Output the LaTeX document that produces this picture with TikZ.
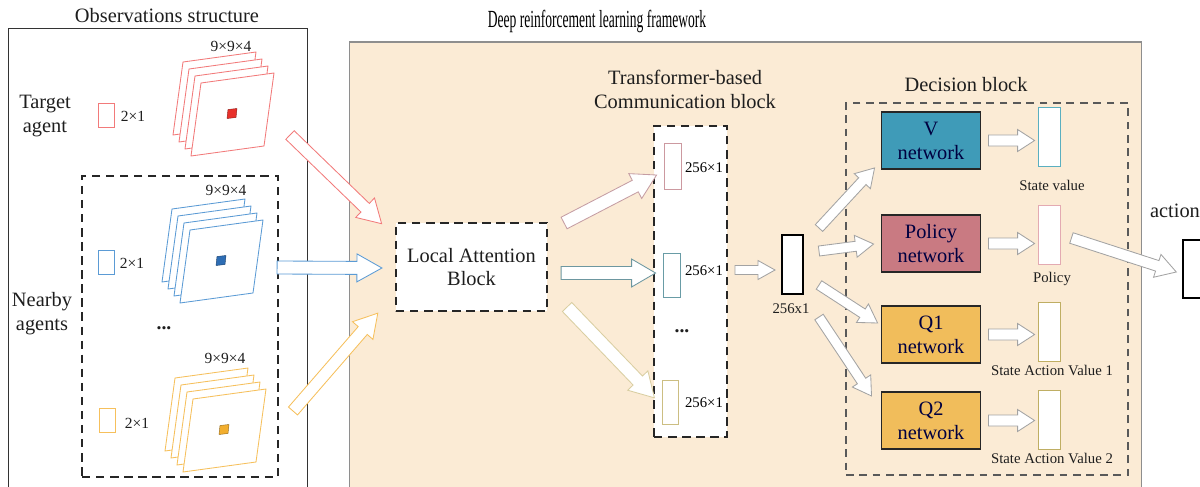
\documentclass[tikz,border=0pt]{standalone}
\usepackage{fontspec}
\setmainfont{Liberation Serif}
\usetikzlibrary{positioning,calc}
\definecolor{drlbg}{HTML}{FBEBD5}
\definecolor{drlframe}{HTML}{8E8E8E}
\definecolor{tgtred}{HTML}{F27A7A}
\definecolor{nbblue}{HTML}{5B9BD5}
\definecolor{nbyel}{HTML}{F6C05C}
\definecolor{cellred}{HTML}{E8302A}
\definecolor{cellblue}{HTML}{2E6DB4}
\definecolor{cellyel}{HTML}{F2AE2E}
\definecolor{vcol}{HTML}{3F9BB8}
\definecolor{pcol}{HTML}{C97A82}
\definecolor{qcol}{HTML}{F1BD5B}
\definecolor{vout}{HTML}{5AAFC0}
\definecolor{pout}{HTML}{E3AAB2}
\definecolor{qout}{HTML}{BFAE63}
\definecolor{arrgray}{HTML}{A3A3A3}
\definecolor{txt}{HTML}{1E1E1E}
\def\pxl{0.71132pt}
% block arrow: #2 tail, #3 tip, #4 half shaft, #5 half head, #6 head length (px)
\newcommand{\fatarrow}[6][]{%
  \draw[fatline,#1] let \p1=(#2), \p2=(#3),
    \n1={atan2(\y2-\y1,\x2-\x1)}, \n2={veclen(\x2-\x1,\y2-\y1)} in
    [shift={(\p1)},rotate=\n1]
    (0pt,{-#4*\pxl}) -- ({\n2-#6*\pxl},{-#4*\pxl}) -- ({\n2-#6*\pxl},{-#5*\pxl}) -- ({\n2+0pt},0pt)
    -- ({\n2-#6*\pxl},{#5*\pxl}) -- ({\n2-#6*\pxl},{#4*\pxl}) -- (0pt,{#4*\pxl}) -- cycle;}
% stack of four 9x9x4 sheets: #1,#2 back corner, #3 line, #4 cell
\newcommand{\obsstack}[4]{%
  \foreach \k in {0,...,3}
    \draw[sheet,draw=#3] ({#1+6*\k},{#2+7*\k}) -- ++(73,-10) -- ++(-10,73) -- ++(-73,10) -- cycle;
  \draw[fill=#4,draw=#4!60!black,line width=0.3pt] ({#1+45},{#2+47.5}) -- ++(9,-1) -- ++(-1,9) -- ++(-9,1) -- cycle;}
\tikzset{
  lbl/.style={font=\fontsize{14.5}{17}\selectfont,align=center,inner sep=0pt,text=txt},
  dim/.style={font=\fontsize{11}{13}\selectfont,inner sep=0pt,text=txt},
  tiny/.style={font=\fontsize{10.5}{12}\selectfont,inner sep=0pt,text=txt},
  dots/.style={font=\fontsize{14}{14}\selectfont\bfseries,inner sep=0pt,text=txt},
  vecbox/.style={draw,fill=white,minimum width=0.4cm,minimum height=0.6cm,inner sep=0pt,line width=0.6pt},
  blkdash/.style={draw=black!85,line width=1.5pt,dash pattern=on 6pt off 4pt,inner sep=0pt},
  netbox/.style={draw=black!85,line width=1.3pt,minimum width=2.475cm,minimum height=1.425cm,inner sep=0pt,
    align=center,font=\fontsize{14.5}{17}\selectfont,text=black!75!blue},
  fatline/.style={draw=arrgray,fill=white,line width=0.6pt},
  sheet/.style={fill=white,line width=0.6pt},
}
\begin{document}
\begin{tikzpicture}[x=0.025cm,y=-0.025cm]
\clip (0,0) rectangle (1200,486);
% observations side
\node[lbl] (obs-title) at (167,16) {Observations structure};
\node[draw=black!80,line width=0.6pt,minimum width=7.475cm,minimum height=12cm,inner sep=0pt] (obs) at (157.5,268) {};
\node[lbl] (tgt) at (45,116) {Target\\agent};
\node[vecbox,draw=tgtred] (tgt-v) at (106,115) {};
\node[dim] (tgt-v-dim) at (133,116) {2×1};
\obsstack{183}{62}{tgtred}{cellred}
\node[dim] (tgt-m-dim) at (231,46) {9×9×4};
\node[blkdash,minimum width=4.9cm,minimum height=7.525cm] (nbox) at (180,326.5) {};
\node[lbl] (nb) at (42,314) {Nearby\\agents};
\node[vecbox,draw=nbblue] (nb1-v) at (106,262) {};
\node[dim] (nb1-v-dim) at (132,263) {2×1};
\obsstack{172}{209}{nbblue}{cellblue}
\node[dim] (nb1-m-dim) at (226,190) {9×9×4};
\node[dots] (nb-dots) at (164,328) {...};
\node[vecbox,draw=nbyel] (nb2-v) at (107,420) {};
\node[dim] (nb2-v-dim) at (137,423) {2×1};
\obsstack{175}{378}{nbyel}{cellyel}
\node[dim] (nb2-m-dim) at (225,358) {9×9×4};
% DRL framework
\node[lbl,text=black] (drl-title) at (597,21) {\fontsize{17.5}{19}\selectfont\scalebox{0.55}[1]{Deep reinforcement learning framework}};
\node[draw=drlframe,fill=drlbg,line width=0.8pt,minimum width=19.775cm,minimum height=11.7cm,inner sep=0pt] (drl) at (745.5,276) {};
\node[blkdash,fill=white,minimum width=3.775cm,minimum height=2.2cm,font=\fontsize{14.5}{17}\selectfont,align=center,text=txt] (lab) at (471.5,267) {Local Attention\\Block};
\fatarrow[draw=tgtred]{290,135}{$(lab.west)+(-13,-43)$}{6}{13.5}{23}
\fatarrow[draw=nbblue]{$(nbox.east)+(-2,-59)$}{$(lab.west)+(-13,1)$}{6.5}{14}{25}
\fatarrow[draw=nbyel]{293,411}{$(lab.west)+(-17,46)$}{6}{13.5}{23}
% communication block
\node[lbl] (comm-title) at (685,89.5) {Transformer-based\\Communication block};
\node[blkdash,fill=white,minimum width=1.825cm,minimum height=7.775cm] (comm) at (690.5,281.5) {};
\node[vecbox,draw=pout!90!black,minimum width=0.425cm,minimum height=1.15cm] (c1) at (672.5,166) {};
\node[vecbox,draw=vout!60!gray,minimum width=0.425cm,minimum height=1.1cm] (c2) at (671.5,275) {};
\node[vecbox,draw=qout!80,minimum width=0.4cm,minimum height=1.1cm] (c3) at (670,402) {};
\node[tiny,text=black] (c1-dim) at (704,168) {256×1};
\node[tiny,text=black] (c2-dim) at (704,271) {256×1};
\node[tiny,text=black] (c3-dim) at (704,403) {256×1};
\node[dots] (comm-dots) at (682,331) {...};
\fatarrow[draw=pout!70!gray]{$(lab.east)+(16,-44)$}{$(c1.west)+(-7,9)$}{6.5}{14}{24}
\fatarrow[draw=vout!50!gray]{$(lab.east)+(13,6)$}{$(c2.west)+(-7,-2)$}{6.5}{14}{24}
\fatarrow[draw=qout!60]{$(lab.east)+(19,40)$}{$(c3.west)+(-7,-4)$}{6.5}{14}{24}
% merged vector
\node[vecbox,draw=black,line width=1.4pt,minimum width=0.525cm,minimum height=1.475cm] (vec) at (792.5,264.5) {};
\node[tiny] (vec-dim) at (791,309) {256x1};
\fatarrow{$(comm.east)+(7,-11.5)$}{$(vec.west)+(-6,5.5)$}{4.5}{9.5}{17}
% decision block
\node[lbl] (dec-title) at (966,85) {Decision block};
\node[draw=black!65,line width=1.1pt,dash pattern=on 5.5pt off 4pt,minimum width=7.05cm,minimum height=9.3cm,inner sep=0pt] (dec) at (987,289) {};
\foreach \r/\y/\fc/\oc/\oy/\t/\l/\ly in {
  v/140.5/vcol/vout/136.5/{V\\network}/State value/185,
  p/243.5/pcol/pout/234.5/{Policy\\network}/Policy/279,
  q1/334.5/qcol/qout/331.5/{Q1\\network}/State Action Value 1/370,
  q2/420.5/qcol/qout/419.5/{Q2\\network}/State Action Value 2/458}{
  \node[netbox,fill=\fc] (\r-net) at (931,\y) {\t};
  \node[vecbox,draw=\oc,minimum width=0.55cm,minimum height=1.475cm] (\r-out) at (1049,\oy) {};
  \node[tiny] (\r-lab) at (1052,\ly) {\l};
  \fatarrow{$(\r-net.east)+(7,0)$}{$(\r-out.west |- \r-net.east)+(-3,0)$}{5.5}{11}{17}
}
\fatarrow{$(vec.east)+(15,-36.5)$}{$(v-net.south west)+(-6,-2)$}{5}{11}{18}
\fatarrow{$(vec.east)+(15,-13.5)$}{$(p-net.west)+(-7,0.5)$}{5}{11}{18}
\fatarrow{$(vec.east)+(15,20.5)$}{$(q1-net.west)+(-3,-11.5)$}{5}{11}{18}
\fatarrow{$(vec.east)+(15,52.5)$}{$(q2-net.north west)+(-9,5)$}{5}{11}{18}
% action
\node[lbl] (act-title) at (1175,211) {action};
\node[draw=black,line width=1pt,minimum width=0.8cm,minimum height=1.45cm,inner sep=0pt] (act) at (1199,269) {};
\fatarrow{$(p-out.east)+(11,3.5)$}{$(act.west)+(-6,3)$}{5.5}{12}{20}
\end{tikzpicture}
\end{document}
